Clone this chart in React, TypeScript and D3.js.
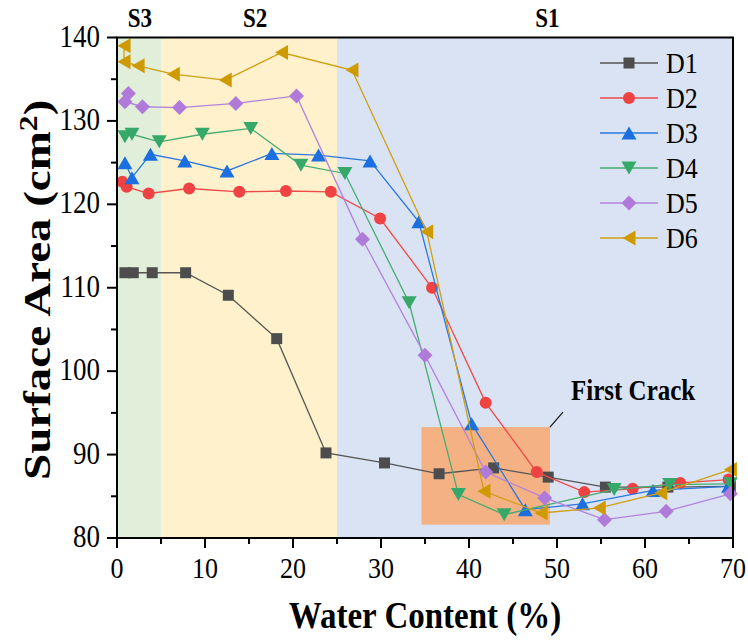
import * as d3 from "d3";

const FONT = "'Liberation Serif', 'Times New Roman', serif";
const W = 748;
const H = 642;
const MARGIN = { top: 37.5, right: 15, bottom: 104, left: 117 };
// the source figure is slightly stretched vertically
const STRETCH = 1.15;

const SERIES = ["D1", "D2", "D3", "D4", "D5", "D6"];
const COLORS = ["#4d4d4d", "#ef4242", "#1b6fe0", "#36a96a", "#b07ada", "#cf9a00"];
const LINE_COLORS = ["#555555", "#ef4a4a", "#2a78e0", "#45ad72", "#b283dc", "#d09f10"];
const SHAPES = ["square", "circle", "up", "down", "diamond", "left"];

const d1X = [0.9, 1.85, 4.0, 7.8, 12.65, 18.15, 23.75, 30.4, 36.6, 42.8, 49.0, 55.5, 62.6, 69.7];
const d1Y = [111.8, 111.8, 111.8, 111.8, 109.1, 103.9, 90.2, 89.0, 87.7, 88.4, 87.3, 86.1, 86.1, 86.2];
const d2X = [0.6, 1.1, 3.6, 8.2, 13.9, 19.2, 24.3, 29.9, 35.8, 41.9, 47.7, 53.1, 58.6, 64.0, 69.5];
const d2Y = [122.7, 122.1, 121.3, 121.9, 121.5, 121.6, 121.5, 118.3, 110.0, 96.2, 87.9, 85.5, 85.9, 86.6, 87.0];
const d3X = [0.9, 1.7, 3.8, 7.7, 12.5, 17.6, 22.9, 28.75, 34.3, 40.3, 46.4, 52.9, 60.9, 69.5];
const d3Y = [125.0, 123.2, 126.0, 125.2, 124.0, 126.1, 125.9, 125.2, 117.9, 93.7, 83.4, 84.1, 85.7, 86.2];
const d4X = [0.9, 1.7, 4.8, 9.7, 15.2, 20.9, 25.9, 33.2, 38.8, 44.0, 56.5, 62.8, 69.7];
const d4Y = [128.1, 128.4, 127.5, 128.4, 129.1, 124.7, 123.7, 108.2, 85.2, 82.8, 85.8, 86.4, 86.5];
const d5X = [1.3, 0.9, 2.9, 7.1, 13.5, 20.4, 27.9, 35.0, 41.9, 48.6, 55.4, 62.4, 69.7];
const d5Y = [133.3, 132.3, 131.7, 131.6, 132.1, 133.0, 115.8, 101.9, 87.9, 84.8, 82.2, 83.2, 85.3];
const d6X = [0.8, 0.8, 2.4, 6.4, 12.3, 18.7, 26.7, 35.2, 41.7, 48.2, 54.8, 61.8, 69.7];
const d6Y = [139.0, 137.1, 136.6, 135.6, 134.9, 138.2, 136.1, 116.7, 85.6, 83.0, 83.6, 85.4, 88.2];

const SERIES_X = [d1X, d2X, d3X, d4X, d5X, d6X];
const SERIES_Y = [d1Y, d2Y, d3Y, d4Y, d5Y, d6Y];

const STAGES = ["S3", "S2", "S1"];
const STAGE_START = [0, 5, 25];
const STAGE_END = [5, 25, 70];
const STAGE_LABEL_X = [2.6, 15.7, 48.9];
const STAGE_FILL = ["#e1eed9", "#fff1cc", "#dae3f3"];

const CRACK_X = [34.6, 49.2];
const CRACK_Y = [81.6, 93.3];

const X_TICKS = [0, 10, 20, 30, 40, 50, 60, 70];
const Y_TICKS = [80, 90, 100, 110, 120, 130, 140];

function markerPath(shape: string, cx: number, cy: number): string {
  switch (shape) {
    case "square": {
      const s = 5.5;
      return `M${cx - s},${cy - s}h${2 * s}v${2 * s}h${-2 * s}Z`;
    }
    case "circle": {
      const r = 6;
      return `M${cx - r},${cy}a${r},${r} 0 1,0 ${2 * r},0a${r},${r} 0 1,0 ${-2 * r},0Z`;
    }
    case "up":
      return `M${cx},${cy - 6.5}L${cx + 7.5},${cy + 6.5}L${cx - 7.5},${cy + 6.5}Z`;
    case "down":
      return `M${cx},${cy + 6.5}L${cx + 7.5},${cy - 6.5}L${cx - 7.5},${cy - 6.5}Z`;
    case "left":
      return `M${cx - 6.5},${cy}L${cx + 6.5},${cy - 7.5}L${cx + 6.5},${cy + 7.5}Z`;
    default:
      return `M${cx},${cy - 7.5}L${cx + 7.5},${cy}L${cx},${cy + 7.5}L${cx - 7.5},${cy}Z`;
  }
}

const at = (tx: number, ty: number) => `translate(${tx},${ty}) scale(1,${STRETCH})`;

export default function App() {
  const x = d3.scaleLinear().domain([0, 70]).range([MARGIN.left, W - MARGIN.right]);
  const y = d3.scaleLinear().domain([80, 140]).range([H - MARGIN.bottom, MARGIN.top]);
  const [x0, x1] = x.range();
  const [yb, yt] = y.range();

  const line = d3
    .line<[number, number]>()
    .x((d) => x(d[0]))
    .y((d) => y(d[1]));

  const xMinor = d3.range(5, 70, 10);
  const yMinor = d3.range(85, 140, 10);

  return (
    <svg
      width={W}
      height={H}
      style={{ position: "absolute", left: 0, top: 0, background: "#fff" }}
      fontFamily={FONT}
    >
      {/* stage bands */}
      {STAGES.map((s, i) => (
        <rect
          key={s}
          x={x(STAGE_START[i])}
          y={yt}
          width={x(STAGE_END[i]) - x(STAGE_START[i])}
          height={yb - yt}
          fill={STAGE_FILL[i]}
        />
      ))}
      {STAGES.map((s, i) => (
        <text key={`sl-${s}`} transform={at(x(STAGE_LABEL_X[i]), 27)} fontSize={23} fontWeight="bold" textAnchor="middle">
          {s}
        </text>
      ))}

      {/* first crack region */}
      <rect
        x={x(CRACK_X[0])}
        y={y(CRACK_Y[1])}
        width={x(CRACK_X[1]) - x(CRACK_X[0])}
        height={y(CRACK_Y[0]) - y(CRACK_Y[1])}
        fill="#f4b183"
      />
      <line
        x1={x(CRACK_X[1])}
        y1={y(CRACK_Y[1])}
        x2={x(CRACK_X[1]) + 13}
        y2={y(CRACK_Y[1]) - 15}
        stroke="#111"
        strokeWidth={1.2}
      />
      <text transform={at(571, 400)} fontSize={25} fontWeight="bold">First Crack</text>

      {/* series */}
      {SERIES.map((name, si) => {
        const pts = SERIES_X[si].map((v, i) => [v, SERIES_Y[si][i]] as [number, number]);
        return (
          <g key={name}>
            <path d={line(pts) ?? ""} fill="none" stroke={LINE_COLORS[si]} strokeWidth={1.3} />
            {pts.map((p, i) => (
              <path key={i} d={markerPath(SHAPES[si], x(p[0]), y(p[1]))} fill={COLORS[si]} />
            ))}
          </g>
        );
      })}

      {/* legend */}
      {SERIES.map((name, si) => {
        const ly = 63 + si * 35;
        return (
          <g key={`lg-${name}`}>
            <line x1={600} x2={658} y1={ly} y2={ly} stroke={LINE_COLORS[si]} strokeWidth={1.3} />
            <path d={markerPath(SHAPES[si], 629, ly)} fill={COLORS[si]} />
            <text transform={at(666, ly + 10)} fontSize={26}>{name}</text>
          </g>
        );
      })}

      {/* frame */}
      <rect x={x0} y={yt} width={x1 - x0} height={yb - yt} fill="none" stroke="#000" strokeWidth={2} />

      {/* x axis */}
      {X_TICKS.map((t) => (
        <g key={`xt-${t}`}>
          <line x1={x(t)} x2={x(t)} y1={yb} y2={yb + 10} stroke="#000" strokeWidth={2} />
          <text transform={at(x(t), yb + 40)} textAnchor="middle" fontSize={26}>{t}</text>
        </g>
      ))}
      {xMinor.map((t) => (
        <line key={`xm-${t}`} x1={x(t)} x2={x(t)} y1={yb} y2={yb + 6} stroke="#000" strokeWidth={2} />
      ))}
      <text transform={at((x0 + x1) / 2, 628)} textAnchor="middle" fontSize={33} fontWeight="bold">
        Water Content (%)
      </text>

      {/* y axis */}
      {Y_TICKS.map((t) => (
        <g key={`yt-${t}`}>
          <line x1={x0 - 10} x2={x0} y1={y(t)} y2={y(t)} stroke="#000" strokeWidth={2} />
          <text transform={at(x0 - 17, y(t) + 9)} textAnchor="end" fontSize={27}>{t}</text>
        </g>
      ))}
      {yMinor.map((t) => (
        <line key={`ym-${t}`} x1={x0 - 6} x2={x0} y1={y(t)} y2={y(t)} stroke="#000" strokeWidth={2} />
      ))}
      <text
        transform={`translate(50,${(yt + yb) / 2 + 2}) scale(1,1.27) rotate(-90)`}
        textAnchor="middle"
        fontSize={37}
        fontWeight="bold"
      >
        Surface Area (cm<tspan dy={-13} fontSize={25}>2</tspan><tspan dy={13}>)</tspan>
      </text>
    </svg>
  );
}
